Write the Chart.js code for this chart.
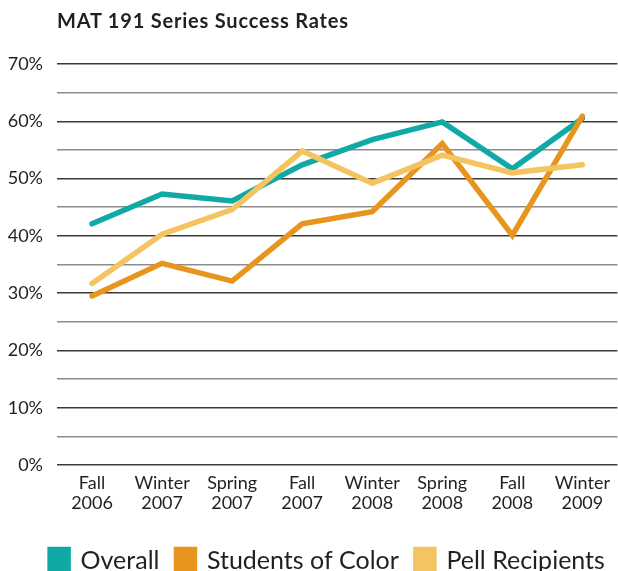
<!DOCTYPE html>
<html>
<head>
<meta charset="utf-8">
<script src="https://cdn.jsdelivr.net/npm/chart.js@4/dist/chart.umd.min.js"></script>
<style>
  html, body { margin: 0; padding: 0; background: #fff; width: 618px; height: 571px; overflow: hidden; }
  #wrap { position: relative; width: 618px; height: 571px; overflow: hidden; }
  #box { position: absolute; left: 0; top: 0; width: 618px; height: 590px; }
  #title { position: absolute; left: 57px; top: 10px; font: bold 20px Lato, sans-serif; letter-spacing: 0.8px; line-height: 20px; color: #231f20; white-space: nowrap; }
</style>
</head>
<body>
<div id="wrap">
  <div id="box"><canvas id="c"></canvas></div>
  <div id="title">MAT 191 Series Success Rates</div>
</div>
<script>
const categories = [["Fall","2006"],["Winter","2007"],["Spring","2007"],["Fall","2007"],["Winter","2008"],["Spring","2008"],["Fall","2008"],["Winter","2009"]];
const overall = [42.1, 47.3, 46.1, 52.4, 56.8, 59.9, 51.7, 60.5];
const studentsOfColor = [29.5, 35.2, 32.1, 42.1, 44.2, 56.1, 40.1, 60.9];
const pellRecipients = [31.7, 40.3, 44.6, 54.8, 49.2, 54.1, 51.0, 52.4];
const yTicks = [0, 10, 20, 30, 40, 50, 60, 70];

const FONT = "Lato, sans-serif";
const line = (label, data, color, order) => ({
  label, data, borderColor: color, backgroundColor: color, borderWidth: 5.5,
  pointRadius: 0, pointHoverRadius: 0, tension: 0, fill: false,
  borderCapStyle: 'round', borderJoinStyle: 'miter', order
});

// shift the legend block slightly right, as in the reference
const legendShift = {
  id: 'legendShift',
  afterLayout(chart) {
    if (chart.legend) { chart.legend.left += 15; chart.legend.right += 15; }
  }
};

new Chart(document.getElementById('c'), {
  type: 'line',
  data: {
    labels: categories,
    datasets: [
      line('Overall', overall, '#10a9a4', 2),
      line('Students of Color', studentsOfColor, '#e8951d', 1),
      line('Pell Recipients', pellRecipients, '#f3c460', 0)
    ]
  },
  plugins: [legendShift],
  options: {
    responsive: true, maintainAspectRatio: false, animation: false,
    layout: { padding: { top: 64, left: 7, right: 0, bottom: 7 } },
    plugins: {
      tooltip: { enabled: false },
      title: { display: false },
      legend: {
        position: 'bottom',
        labels: {
          font: { family: FONT, size: 25 }, color: '#231f20',
          boxWidth: 18, boxHeight: 22, padding: 17,
          sort: (a, b) => a.datasetIndex - b.datasetIndex
        }
      }
    },
    scales: {
      x: {
        offset: true,
        grid: { display: false, drawTicks: false },
        border: { display: false },
        ticks: { font: { family: FONT, size: 18, lineHeight: 1.1 }, color: '#231f20', maxRotation: 0, autoSkip: false, padding: 8 },
        afterFit: (s) => { s.height = 66; }
      },
      y: {
        min: 0, max: 70,
        grid: {
          drawTicks: false, lineWidth: 1.5,
          color: (ctx) => (ctx.tick && ctx.tick.value % 10 === 0) ? '#3a3a3a' : '#8c8c8c'
        },
        border: { display: false },
        ticks: {
          stepSize: 5, autoSkip: false, padding: 14, color: '#231f20',
          font: { family: FONT, size: 18 },
          callback: (v) => yTicks.includes(v) ? v + '%' : ''
        },
        afterFit: (s) => { s.width = 50; }
      }
    }
  }
});
</script>
</body>
</html>
